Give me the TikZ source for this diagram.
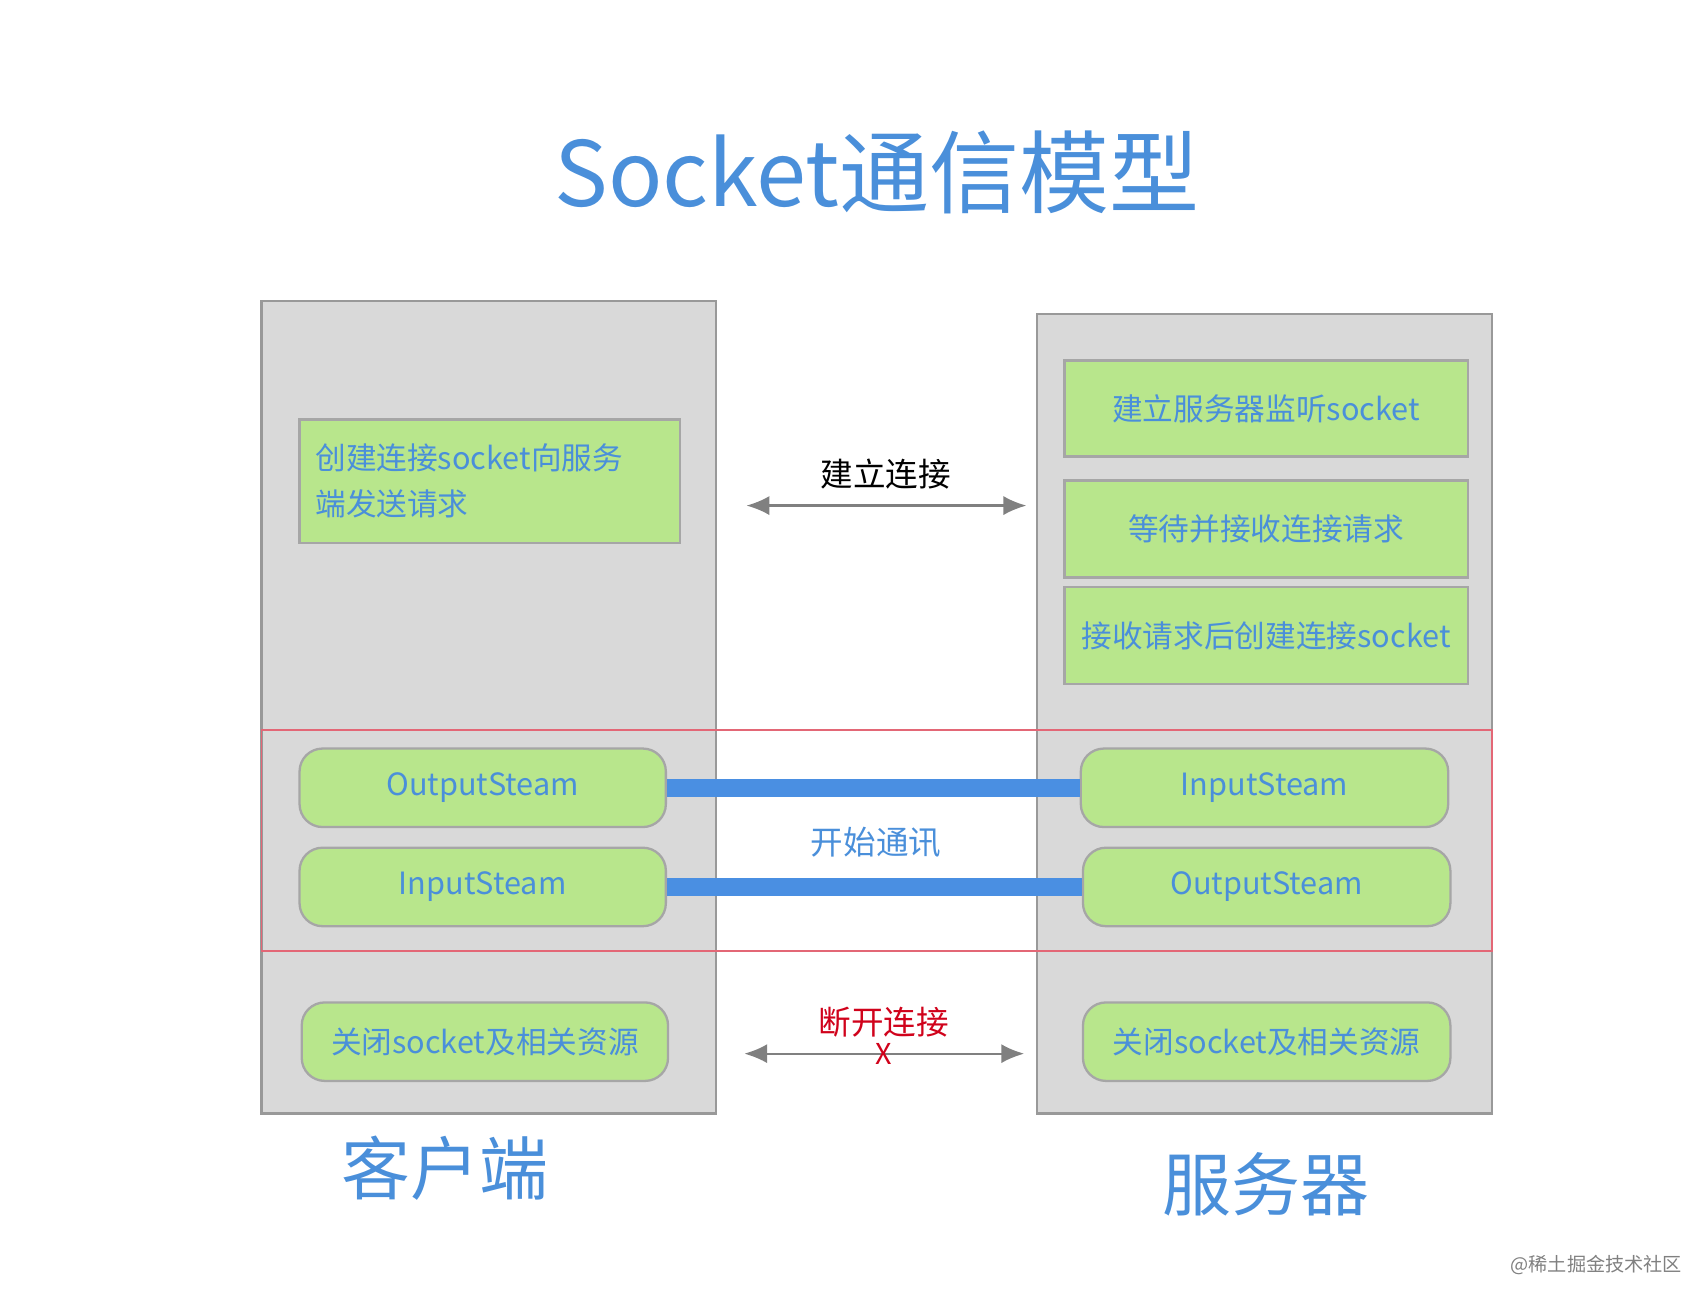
\documentclass[tikz,border=0pt]{standalone}
\usepackage{fontspec}
\setmainfont{Noto Sans CJK SC}
\usetikzlibrary{arrows.meta}
\definecolor{txtblue}{HTML}{4A8FDA}
\definecolor{boxgreen}{HTML}{B8E68C}
\definecolor{panelgray}{HTML}{D9D9D9}
\definecolor{barblue}{HTML}{4A8FE2}
\definecolor{alert}{HTML}{D0021B}
\tikzset{
  panel/.style = {fill = panelgray, draw = gray!80, line width = 0.6pt},
  task/.style = {fill = boxgreen, draw = gray!70, line width = 0.6pt, text = txtblue,
                 font = \fontsize{8}{11}\selectfont, inner sep = 0pt},
  stream/.style = {task, rounded corners = 6pt},
  pipe/.style = {barblue, line width = 4.6pt},
  link/.style = {gray, line width = 0.6pt, {Latex[length=6pt,width=5pt]}-{Latex[length=6pt,width=5pt]}}
}
\begin{document}
\begin{tikzpicture}[x = 0.01cm, y = -0.01cm]
        \useasboundingbox (0, 0) rectangle (1562, 1197);
        \node[text = txtblue, font = \fontsize{23.5}{28}\selectfont] (title) at (805, 158) {Socket通信模型};

        \draw[panel] (240, 276) rectangle (657, 1022);
        \draw[panel] (952, 288) rectangle (1369, 1022);
        \draw[alert!60, line width = 0.5pt] (240, 670) rectangle (1369, 873);

        \node[task, minimum width = 3.49cm, minimum height = 1.13cm, align = left, text width = 3.2cm] (cconnect) at (449.5, 441.5) {创建连接socket向服务\\[1pt]端发送请求};
        \node[task, minimum width = 3.7cm, minimum height = 0.88cm] (slisten) at (1162, 375) {建立服务器监听socket};
        \node[task, minimum width = 3.7cm, minimum height = 0.89cm] (swait) at (1162, 485.5) {等待并接收连接请求};
        \node[task, minimum width = 3.7cm, minimum height = 0.89cm] (screate) at (1162, 583.5) {接收请求后创建连接socket};

        \node[stream, minimum width = 3.36cm, minimum height = 0.72cm] (cout) at (443, 723) {OutputSteam};
        \node[stream, minimum width = 3.36cm, minimum height = 0.72cm] (cin) at (443, 814) {InputSteam};
        \node[stream, minimum width = 3.36cm, minimum height = 0.72cm] (cclose) at (445, 956) {关闭socket及相关资源};
        \node[stream, minimum width = 3.37cm, minimum height = 0.72cm] (sin) at (1160.5, 723) {InputSteam};
        \node[stream, minimum width = 3.37cm, minimum height = 0.72cm] (sout) at (1162.5, 814) {OutputSteam};
        \node[stream, minimum width = 3.37cm, minimum height = 0.72cm] (sclose) at (1162.5, 956) {关闭socket及相关资源};

        \draw[pipe] (cout.east) -- (sin.west);
        \draw[pipe] (cin.east) -- (sout.west);
        \node[text = txtblue, font = \fontsize{8.5}{10}\selectfont] (talk) at (804, 773) {开始通讯};

        \coordinate (openl) at (685, 464);
        \coordinate (openr) at (942, 464);
        \draw[link] (openl) -- (openr);
        \node[font = \fontsize{8.5}{10}\selectfont] (open) at (813, 435) {建立连接};

        \coordinate (closel) at (683, 967);
        \coordinate (closer) at (940, 967);
        \draw[link] (closel) -- (closer);
        \node[text = alert, font = \fontsize{8.5}{10}\selectfont] (close) at (811, 938) {断开连接};
        \node[text = alert, font = \fontsize{7.5}{9}\selectfont, inner sep = 0pt] (cross) at (811, 967) {X};

        \node[text = txtblue, font = \fontsize{18}{21}\selectfont] (client) at (408, 1072) {客户端};
        \node[text = txtblue, font = \fontsize{18}{21}\selectfont] (server) at (1162, 1087) {服务器};

        \node[text = gray, font = \fontsize{5}{6}\selectfont] (mark) at (1465, 1161) {@稀土掘金技术社区};
    \end{tikzpicture}
\end{document}
